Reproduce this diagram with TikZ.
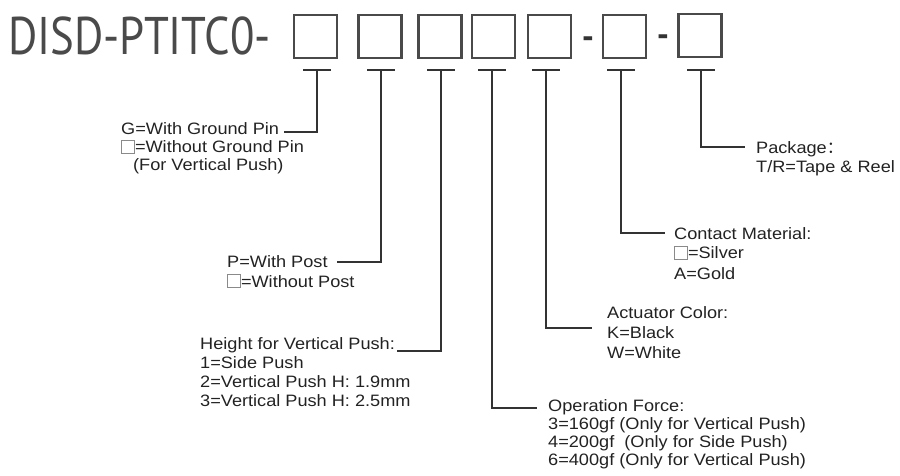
\documentclass[tikz,border=0pt]{standalone}
\usepackage{fontspec}
\setmainfont{Liberation Sans}[FakeStretch=1.1]
\newfontfamily\titlefont{PT Sans}[FakeStretch=0.845]
\newfontfamily\dashfont{PT Sans}
\newfontfamily\cjkfont{Noto Sans CJK SC}
\definecolor{boxgray}{HTML}{4A4A4A}
\definecolor{txtgray}{HTML}{222222}
\definecolor{linegray}{HTML}{333333}
\definecolor{smallbox}{HTML}{8A8A8A}
\newcommand\ebox{{\color{smallbox}\setlength\fboxsep{0pt}\setlength\fboxrule{0.9pt}\fbox{\rule{0pt}{12pt}\hspace{12pt}}}}
\newcommand\blk[2]{\fontsize{16.5}{#1}\selectfont\begin{tabular}[t]{@{}l@{}}#2\end{tabular}}
\begin{document}
\begin{tikzpicture}[x=1pt,y=-1pt,
  codebox/.style={draw=boxgray,line width=2.6pt,minimum width=43pt,minimum height=43pt,inner sep=0pt},
  lbl/.style={anchor=base west,inner sep=0pt,text=txtgray},
  conn/.style={draw=linegray,line width=1.2pt},
  tee/.style={draw=linegray,line width=1.4pt},
  dashtxt/.style={inner sep=0pt,text=linegray,font=\dashfont\bfseries\fontsize{34}{34}\selectfont}]
\useasboundingbox (0,0) rectangle (900,476);
% title
\node[anchor=base west,inner sep=0pt,text=boxgray,font=\titlefont\fontsize{53}{53}\selectfont] (title) at (8,55) {DISD-PTITC0-};
% code boxes
\node[codebox] (b1) at (315.5,36.5) {};
\node[codebox] (b2) at (380,36.5) {};
\node[codebox] (b3) at (440,36.5) {};
\node[codebox] (b4) at (493.5,36.5) {};
\node[codebox] (b5) at (549.5,36.5) {};
\node[dashtxt] (d1) at (588,43) {-};
\node[codebox] (b6) at (624.5,36.5) {};
\node[dashtxt] (d2) at (663,40.5) {-};
\node[codebox] (b7) at (700,35.5) {};
% tee points
\coordinate (t1) at (317,70);
\coordinate (t2) at (381,70);
\coordinate (t3) at (441,70);
\coordinate (t4) at (492,70);
\coordinate (t5) at (546,70);
\coordinate (t6) at (621,70);
\coordinate (t7) at (701,70);
\foreach \t in {t1,t2,t3,t4,t5,t6,t7}{
  \draw[tee] ([xshift=-14pt]\t) -- ([xshift=14pt]\t);
}
% connector ends
\coordinate (e1) at (284,132);
\coordinate (e2) at (337,262);
\coordinate (e3) at (397,351);
\coordinate (e4) at (537,408);
\coordinate (e5) at (592,328);
\coordinate (e6) at (665,233);
\coordinate (e7) at (745,147);
\foreach \i in {1,...,7}{
  \draw[conn] (t\i) |- (e\i);
}
% labels
\node[lbl] (g) at (121,135) {\blk{17}{G=With Ground Pin\\ \ebox=Without Ground Pin\\ \hspace{12pt}(For Vertical Push)}};
\node[lbl] (p) at (227,267) {\blk{20}{P=With Post\\ \ebox=Without Post}};
\node[lbl] (h) at (200,349) {\blk{19}{Height for Vertical Push:\\ 1=Side Push\\ 2=Vertical Push H: 1.9mm\\ 3=Vertical Push H: 2.5mm}};
\node[lbl] (o) at (548,411) {\blk{18}{Operation Force:\\ 3=160gf (Only for Vertical Push)\\ 4=200gf\ \ (Only for Side Push)\\ 6=400gf (Only for Vertical Push)}};
\node[lbl] (a) at (607,318) {\blk{20}{Actuator Color:\\ K=Black\\ W=White}};
\node[lbl] (c) at (674,239) {\blk{20}{Contact Material:\\ \ebox=Silver\\ A=Gold}};
\node[lbl] (k) at (756,154) {\blk{19}{Package{\cjkfont\fontsize{16.5}{19}\selectfont ：}\\ T/R=Tape \& Reel}};
\end{tikzpicture}
\end{document}
